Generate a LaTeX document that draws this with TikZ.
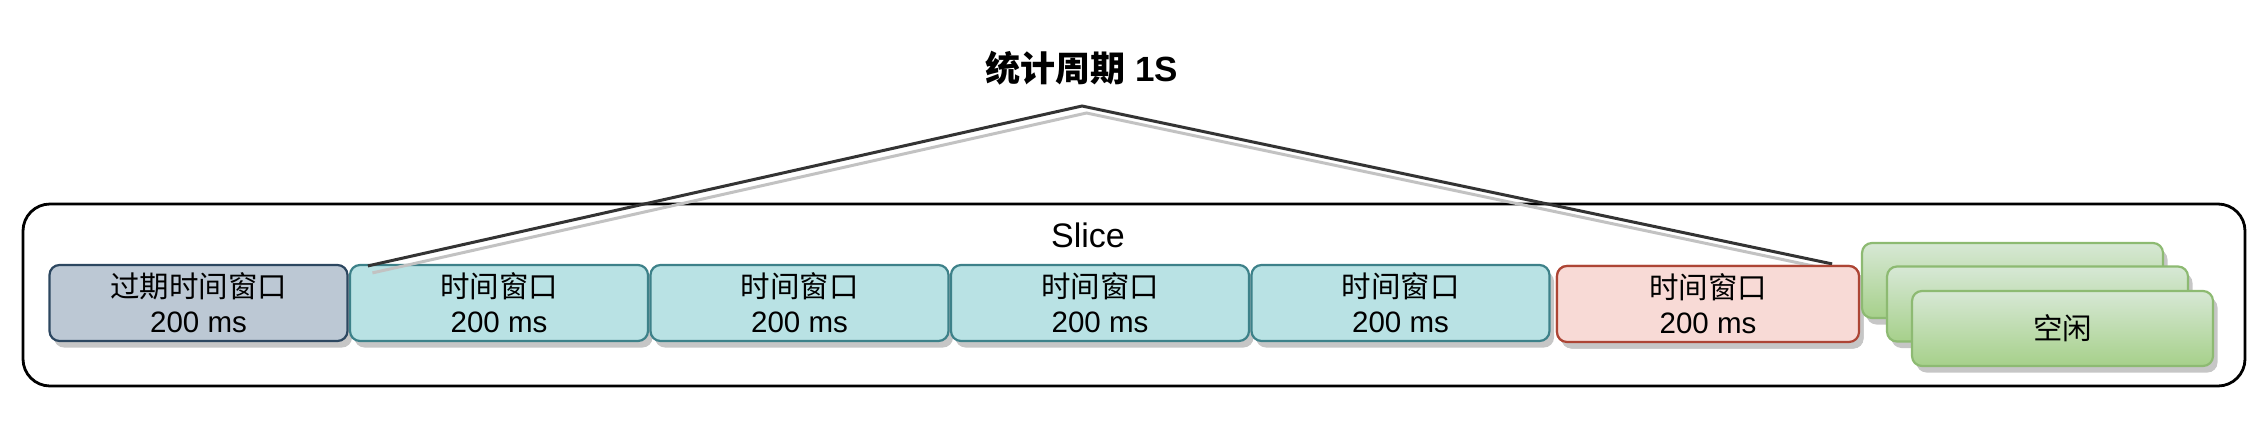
\documentclass[tikz,border=0pt]{standalone}
\usepackage{fontspec}
\setmainfont{Liberation Sans}
\newfontfamily\cjk{Noto Sans CJK SC}
\usetikzlibrary{shadows}
\definecolor{shadowc}{HTML}{C6C6C6}
\definecolor{grayfill}{HTML}{BCC8D4}
\definecolor{graydraw}{HTML}{2C4760}
\definecolor{tealfill}{HTML}{B9E2E4}
\definecolor{tealdraw}{HTML}{3D8189}
\definecolor{redfill}{HTML}{F8DAD6}
\definecolor{reddraw}{HTML}{AD4535}
\definecolor{greentop}{HTML}{D7E8D5}
\definecolor{greenbot}{HTML}{A6D08A}
\definecolor{greendraw}{HTML}{8DBA72}
\definecolor{linec}{HTML}{333333}
\definecolor{lineshadow}{HTML}{C2C2C2}
\begin{document}
\begin{tikzpicture}[x=1pt,y=-1pt,
  win/.style={rectangle, rounded corners=10pt, minimum width=298pt, minimum height=76pt,
    inner sep=0pt, line width=2.2pt, align=center, font=\fontsize{29.5}{35}\selectfont,
    drop shadow={shadow xshift=4.5pt, shadow yshift=-6.5pt, fill=shadowc, opacity=1}},
  oldwin/.style={win, fill=grayfill, draw=graydraw},
  curwin/.style={win, fill=tealfill, draw=tealdraw},
  newwin/.style={win, fill=redfill, draw=reddraw, minimum width=302pt},
  idlewin/.style={win, top color=greentop, bottom color=greenbot, draw=greendraw, minimum width=301pt, minimum height=75pt},
  container/.style={rectangle, rounded corners=27pt, draw=black, line width=2.8pt, minimum width=2222pt, minimum height=182pt, inner sep=0pt},
  period/.style={line width=3pt, draw=linec, line join=miter},
  periodshadow/.style={line width=3pt, draw=lineshadow, line join=miter}
]
\useasboundingbox (0,0) rectangle (2264,440);
\node[container] (slice) at (1134,295) {};
\node[font=\fontsize{34}{40}\selectfont, anchor=base] (slicelabel) at (1088,247) {Slice};
\node[font=\fontsize{35}{40}\selectfont, anchor=base] (title) at (1082,81) {{\cjk\bfseries 统计周期} \textbf{1S}};

\node[oldwin] (b1) at (198.5,303) {{\cjk 过期时间窗口}\\200 ms};
\node[curwin] (b2) at (499,303) {{\cjk 时间窗口}\\200 ms};
\node[curwin] (b3) at (799.5,303) {{\cjk 时间窗口}\\200 ms};
\node[curwin] (b4) at (1100,303) {{\cjk 时间窗口}\\200 ms};
\node[curwin] (b5) at (1400.5,303) {{\cjk 时间窗口}\\200 ms};

\coordinate (apex) at (1082,106);
\coordinate (pl) at ([xshift=19pt,yshift=-2pt]b2.north west);
\node[newwin] (b6) at (1708,304) {};
\coordinate (pr) at ([xshift=-28pt,yshift=1pt]b6.north east);
\draw[periodshadow] ([xshift=4.5pt,yshift=-7pt]pl) -- ([xshift=4.5pt,yshift=-7pt]apex) -- ([xshift=4.5pt,yshift=-7pt]pr);
\draw[period] (pl) -- (apex) -- (pr);
\node[newwin] (b6b) at (b6) {{\cjk 时间窗口}\\200 ms};

\node[idlewin] (g1) at (2012.5,280.5) {\cjk 空闲};
\node[idlewin] (g2) at (2037.5,304) {\cjk 空闲};
\node[idlewin] (g3) at (2062.5,328.5) {\cjk 空闲};
\end{tikzpicture}
\end{document}
